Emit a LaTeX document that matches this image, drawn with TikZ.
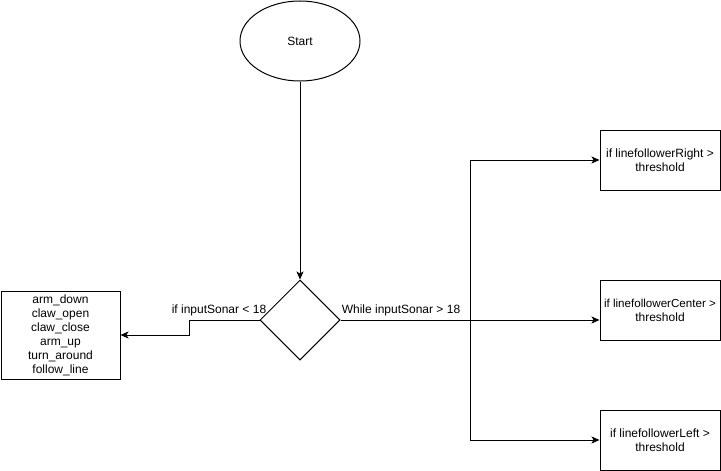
\documentclass[tikz,border=0pt]{standalone}
\usepackage{fontspec}
\setmainfont{Liberation Sans}
\usetikzlibrary{shapes.geometric,arrows.meta}
\begin{document}
\begin{tikzpicture}[x=1pt,y=-1pt,line width=1pt,
  font=\fontsize{12}{14}\selectfont,
  box/.style={draw,rectangle,align=center,inner sep=0pt,minimum width=120pt},
  arr/.style={-{Stealth[length=8pt,width=7pt,inset=2pt]}},
  lbl/.style={inner sep=0pt}]
\useasboundingbox (0,0) rectangle (721,471);
\fill[white] (0,0) rectangle (721,471);

% shapes
\node[draw,ellipse,minimum width=120pt,minimum height=80pt,inner sep=0pt] (start) at (300,41) {Start};
\node[draw,diamond,minimum width=80pt,minimum height=80pt,inner sep=0pt] (dec) at (300,320) {};
\node[box,minimum width=119pt,minimum height=88pt] (actions) at (60.5,335)
  {arm\_down\\claw\_open\\claw\_close\\arm\_up\\turn\_around\\follow\_line};
\node[box,minimum height=60pt] (lfr) at (660,160) {if linefollowerRight >\\threshold};
\node[box,minimum height=60pt] (lfc) at (660,310) {\fontsize{11.6}{14}\selectfont if linefollowerCenter >\\threshold};
\node[box,minimum height=60pt] (lfl) at (660,440) {if linefollowerLeft >\\threshold};

% connectors
\draw[arr] (start.south) -- (dec.north);
\draw[arr] (dec.west) -- ++(-70,0) |- (actions.east);
\coordinate (split) at (470,320);
\draw[arr] (dec.east) -- (lfc.west |- dec.east);
\draw[arr] (split) |- (lfr.west);
\draw[arr] (split) |- (lfl.west);

% labels
\node[lbl,anchor=base] at (219,313) {if inputSonar < 18};
\node[lbl,anchor=base] at (401,313) {While inputSonar > 18};
\end{tikzpicture}
\end{document}
